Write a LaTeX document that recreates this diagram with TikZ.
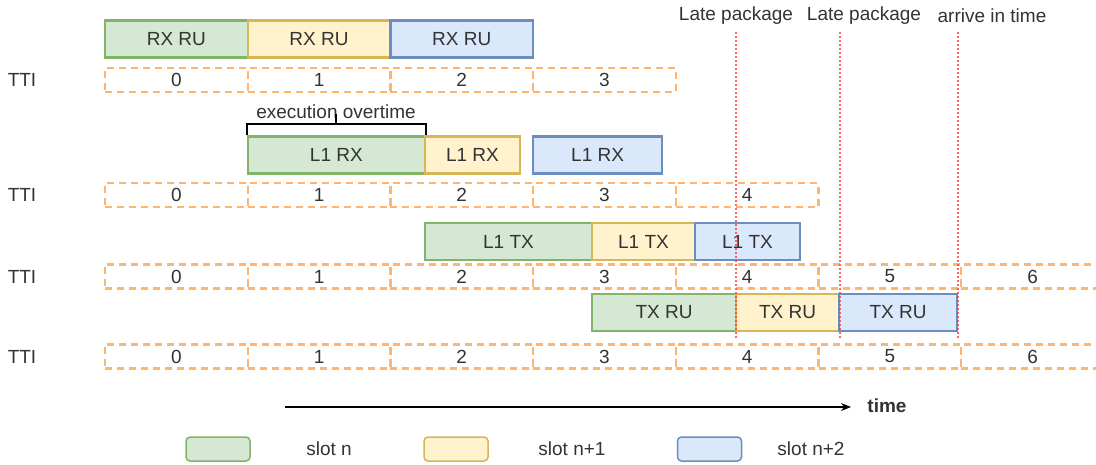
\documentclass[tikz,border=0pt]{standalone}
\usepackage{fontspec}
\setmainfont{Liberation Sans}
\usetikzlibrary{arrows.meta}
\definecolor{gfill}{HTML}{D5E8D4}
\definecolor{gline}{HTML}{82B366}
\definecolor{yfill}{HTML}{FFF2CC}
\definecolor{yline}{HTML}{D6B656}
\definecolor{bfill}{HTML}{DAE8FC}
\definecolor{bline}{HTML}{6C8EBF}
\definecolor{ttiline}{HTML}{FFB570}
\definecolor{lateline}{HTML}{FF3333}
\definecolor{txt}{HTML}{333333}

\begin{document}
\begin{tikzpicture}[x=1pt, y=-1pt,
  every node/.style={font=\fontsize{19}{22}\selectfont, text=txt},
  slot/.style={draw, line width=2.2pt, minimum height=37pt, inner sep=0pt},
  slotn/.style={slot, fill=gfill, draw=gline},
  slotna/.style={slot, fill=yfill, draw=yline},
  slotnb/.style={slot, fill=bfill, draw=bline},
  tti/.style={draw=ttiline, line width=2.2pt, dash pattern=on 7pt off 5pt, minimum width=142.7pt, minimum height=24pt, inner sep=0pt},
  late/.style={draw=lateline, line width=2.2pt, dash pattern=on 0pt off 4pt, line cap=round},
  legend/.style={draw, line width=1.5pt, rounded corners=4pt, minimum width=64pt, minimum height=24pt}]
\useasboundingbox (0,0) rectangle (1096,465);
% RX RU row
\node[slotn, minimum width=143pt] (rxru0) at (176.35,39) {RX RU};
\node[slotna, minimum width=142.7pt] (rxru1) at (319.05,39) {RX RU};
\node[slotnb, minimum width=142.7pt] (rxru2) at (461.75,39) {RX RU};
% L1 RX row
\node[slotn, minimum width=177.3pt] (l1rx0) at (336.35,155) {L1 RX};
\node[slotna, minimum width=95pt] (l1rx1) at (472.5,155) {L1 RX};
\node[slotnb, minimum width=129pt] (l1rx2) at (597.6,155) {L1 RX};
% L1 TX row
\node[slotn, minimum width=167pt] (l1tx0) at (508.5,241.5) {L1 TX};
\node[slotna, minimum width=103pt] (l1tx1) at (643.5,241.5) {L1 TX};
\node[slotnb, minimum width=105pt] (l1tx2) at (747.5,241.5) {L1 TX};
% TX RU row
\node[slotn, minimum width=144pt] (txru0) at (664,312.5) {TX RU};
\node[slotna, minimum width=103pt] (txru1) at (787.5,312.5) {TX RU};
\node[slotnb, minimum width=118pt] (txru2) at (898,312.5) {TX RU};
% TTI rows
\foreach \r/\y/\n in {a/80/3, b/195/4, c/276.5/6, d/356.5/6} {
  \node (tti\r) at (22,\y) {TTI};
  \foreach \i in {0,...,\n}
    \node[tti] (\r\i) at ({176.35+142.7*\i},\y) {\i};
}
% execution overtime bracket
\node (overtime) at (336,112) {execution overtime};
\draw[line width=2pt] (l1rx0.north west) -- ++(0,-11) -- ([yshift=11pt]l1rx0.north east) -- (l1rx0.north east);
\draw[line width=2pt] ([yshift=11pt]l1rx0.north) -- ++(0,-10);
% late lines
\node (late1) at (736,16) {Late package};
\node (late2) at (864,16) {Late package};
\node (intime) at (992,16) {arrive in time};
\foreach \nm/\x in {late1/736, late2/840, intime/958} {
  \coordinate (\nm top) at (\x,33);
  \coordinate (\nm bot) at (\x,340);
  \draw[late] (\nm top) -- (\nm bot);
}
% time axis
\coordinate (tstart) at (285,407);
\coordinate (tend) at (851,407);
\node[font=\fontsize{19}{22}\selectfont\bfseries] (time) at (887,406) {time};
\draw[line width=1.3pt, -{Stealth[length=10pt,width=8pt]}] (tstart) -- (tend);
% legend
\node[legend, draw=gline, fill=gfill] (keyn) at (218,449) {};
\node (keyntext) at (329,449) {slot n};
\node[legend, draw=yline, fill=yfill] (keyna) at (456,449) {};
\node (keynatext) at (572,449) {slot n+1};
\node[legend, draw=bline, fill=bfill] (keynb) at (709.5,449) {};
\node (keynbtext) at (811,449) {slot n+2};
\end{tikzpicture}
\end{document}
